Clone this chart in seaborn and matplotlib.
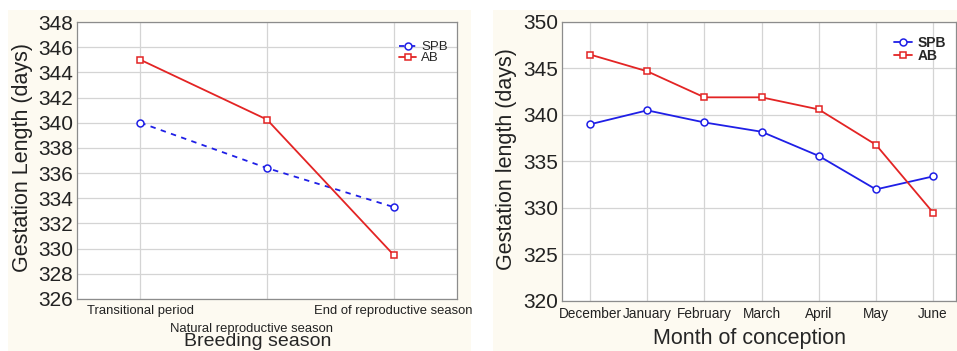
import matplotlib
matplotlib.use("Agg")
from matplotlib import pyplot as plt
from matplotlib.patches import Rectangle
from matplotlib.transforms import ScaledTranslation
import pandas as pd
import seaborn as sns

# left panel: breeding season
season_labels = ["Transitional period", "Natural reproductive season", "End of reproductive season"]
season_spb = [340.0, 336.4, 333.3]
season_ab = [345.0, 340.25, 329.5]

# right panel: month of conception
months = ["December", "January", "February", "March", "April", "May", "June"]
month_spb = [339.0, 340.5, 339.2, 338.2, 335.6, 332.0, 333.4]
month_ab = [346.5, 344.7, 341.9, 341.9, 340.6, 336.8, 329.5]

BLUE = "#1f1fe6"
RED = "#e32424"
CREAM = "#fdfaf1"

sns.set_theme(style="whitegrid")
plt.rcParams["font.family"] = ["Liberation Sans", "DejaVu Sans"]

fig = plt.figure(figsize=(9.57, 3.51), dpi=100, facecolor="white")
fig.patches.append(Rectangle((8 / 957, 0), 463 / 957, 341 / 351, transform=fig.transFigure,
                             facecolor=CREAM, edgecolor="none", zorder=-10))
fig.patches.append(Rectangle((493 / 957, 0), 464 / 957, 341 / 351, transform=fig.transFigure,
                             facecolor=CREAM, edgecolor="none", zorder=-10))

ax1 = fig.add_axes([77 / 957, 1 - 299 / 351, 380 / 957, 277 / 351])
ax2 = fig.add_axes([562 / 957, 1 - 301 / 351, 394 / 957, 279 / 351])


def style_axes(ax):
    ax.set_facecolor("white")
    ax.grid(True, color="#d4d4d4", linewidth=0.9)
    for s in ax.spines.values():
        s.set_color("#8c8c8c")
        s.set_linewidth(0.9)
    ax.tick_params(axis="y", length=0, pad=3, labelsize=15, labelcolor="#222222")
    ax.tick_params(axis="x", length=0, pad=4, labelcolor="#222222")


# LEFT PANEL
df1 = pd.DataFrame({"x": range(len(season_labels)), "SPB": season_spb, "AB": season_ab})
sns.lineplot(data=df1, x="x", y="SPB", ax=ax1, color=BLUE, linestyle=(0, (3, 3)), linewidth=1.3,
             marker="o", markersize=5, markerfacecolor="white", markeredgecolor=BLUE,
             markeredgewidth=1.1, label="SPB")
sns.lineplot(data=df1, x="x", y="AB", ax=ax1, color=RED, linewidth=1.3,
             marker="s", markersize=5, markerfacecolor="white", markeredgecolor=RED,
             markeredgewidth=1.1, label="AB")
style_axes(ax1)
ax1.set_xlim(-0.5, 2.5)
ax1.set_ylim(326, 348)
ax1.set_yticks(range(326, 349, 2))
ax1.set_xticks(range(len(season_labels)))
ax1.set_xticklabels(season_labels, fontsize=9.4)
# staggered middle label, as in the original
mid = ax1.get_xticklabels()[1]
mid.set_transform(mid.get_transform() + ScaledTranslation(-15 / 100, -18 / 100, fig.dpi_scale_trans))
ax1.set_xlabel("Breeding season", fontsize=14)
ax1.xaxis.set_label_coords(0.476, -0.122)
ax1.set_ylabel("Gestation Length (days)", fontsize=15.5, color="#222222")
ax1.yaxis.set_label_coords(-0.115, 0.51)
ax1.legend(loc="upper left", bbox_to_anchor=(0.83, 0.955), frameon=False, fontsize=9.5,
           handlelength=1.3, handletextpad=0.4, labelspacing=-0.1, borderpad=0)

# RIGHT PANEL
df2 = pd.DataFrame({"x": range(len(months)), "SPB": month_spb, "AB": month_ab})
sns.lineplot(data=df2, x="x", y="SPB", ax=ax2, color=BLUE, linewidth=1.3,
             marker="o", markersize=5, markerfacecolor="white", markeredgecolor=BLUE,
             markeredgewidth=1.1, label="SPB")
sns.lineplot(data=df2, x="x", y="AB", ax=ax2, color=RED, linewidth=1.3,
             marker="s", markersize=5, markerfacecolor="white", markeredgecolor=RED,
             markeredgewidth=1.1, label="AB")
style_axes(ax2)
ax2.set_xlim(-0.49, 6.4)
ax2.set_ylim(320, 350)
ax2.set_yticks(range(320, 351, 5))
ax2.set_xticks(range(len(months)))
ax2.set_xticklabels(months, fontsize=9.8)
ax2.set_xlabel("Month of conception", fontsize=15.5)
ax2.xaxis.set_label_coords(0.477, -0.095)
ax2.set_ylabel("Gestation length (days)", fontsize=15.5, color="#222222")
ax2.yaxis.set_label_coords(-0.114, 0.51)
leg = ax2.legend(loc="upper left", bbox_to_anchor=(0.825, 0.975), frameon=False, fontsize=10,
                 handlelength=1.3, handletextpad=0.4, labelspacing=-0.1, borderpad=0)
for t in leg.get_texts():
    t.set_fontweight("bold")

plt.savefig("out.png", dpi=100, facecolor=fig.get_facecolor())
